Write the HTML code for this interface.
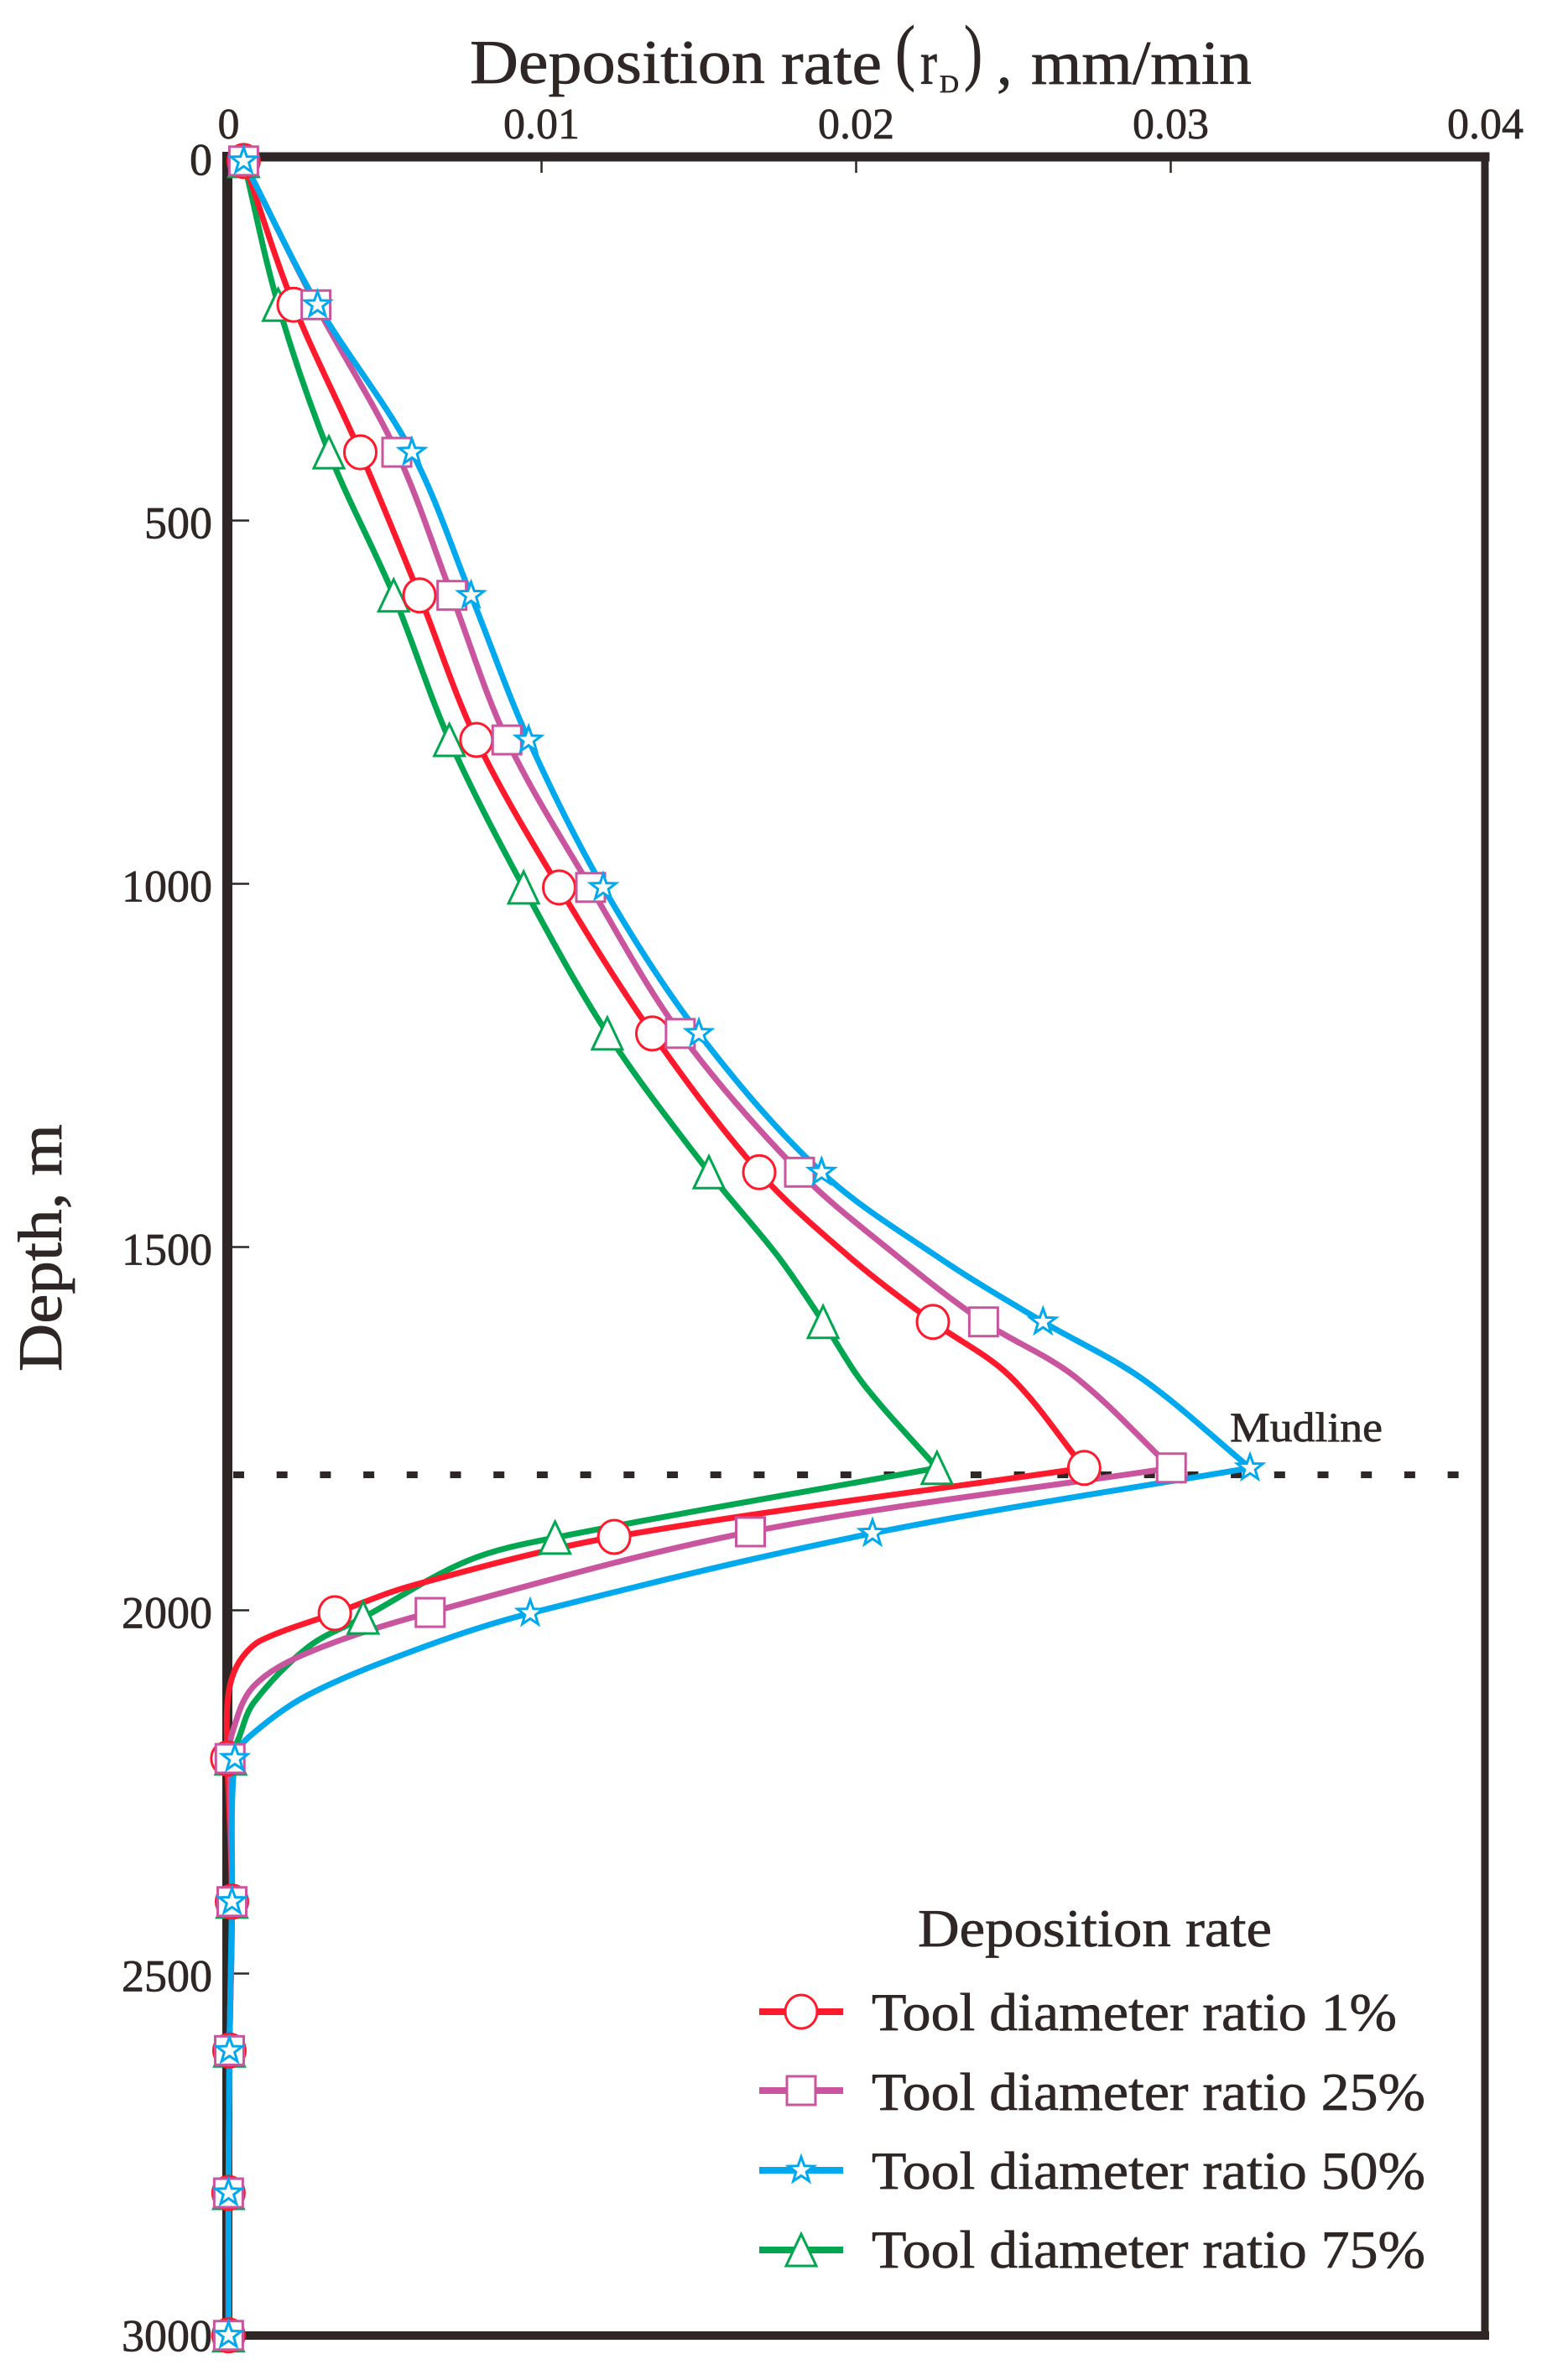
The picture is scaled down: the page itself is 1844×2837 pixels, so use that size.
<!DOCTYPE html>
<html lang="en">
<head>
<meta charset="utf-8">
<title>Deposition rate vs depth</title>
<style>
html,body{margin:0;padding:0;background:#fff;}
svg{display:block;}
text{font-family:"Liberation Serif","Times New Roman",serif;fill:#2f2725;stroke:#2f2725;stroke-width:0.7;}
</style>
</head>
<body>
<svg id="chart" xmlns="http://www.w3.org/2000/svg" width="1844" height="2837" viewBox="0 0 1844 2837">
  <rect x="0" y="0" width="1844" height="2837" fill="#ffffff"/>

  <g>
    <text x="560" y="99" font-size="74" textLength="352" lengthAdjust="spacingAndGlyphs">Deposition</text>
    <text x="931" y="100" font-size="74" textLength="120" lengthAdjust="spacingAndGlyphs">rate</text>
    <text x="1067" y="91" font-size="88" textLength="24" lengthAdjust="spacingAndGlyphs">(</text>
    <text x="1097" y="100" font-size="74" textLength="20" lengthAdjust="spacingAndGlyphs">r</text>
    <text x="1120" y="110" font-size="30" textLength="23" lengthAdjust="spacingAndGlyphs">D</text>
    <text x="1149" y="91" font-size="88" textLength="22" lengthAdjust="spacingAndGlyphs">)</text>
    <text x="1188" y="100" font-size="74">,</text>
    <text x="1229" y="100" font-size="74" textLength="263" lengthAdjust="spacingAndGlyphs">mm/min</text>
  </g>

  <text transform="translate(73,1635) rotate(-90)" x="0" y="0" font-size="74" textLength="295" lengthAdjust="spacingAndGlyphs">Depth, m</text>

  <g id="ticks-layer"></g>
  <line id="mudline" stroke="#2f2725" stroke-width="8" stroke-dasharray="13 38.7" y1="1758" y2="1758" x1="278" x2="1745"/>
  <text x="1466" y="1718" font-size="50" textLength="182" lengthAdjust="spacingAndGlyphs">Mudline</text>
  <g stroke="#2f2725" stroke-linecap="square">
    <line x1="271" y1="187" x2="271" y2="2784" stroke-width="12"/>
    <line x1="271" y1="187" x2="1770" y2="187" stroke-width="11"/>
    <line x1="1770" y1="187" x2="1770" y2="2784" stroke-width="9"/>
    <line x1="271" y1="2784" x2="1770" y2="2784" stroke-width="10"/>
  </g>
  <g id="lines-layer" fill="none" stroke-width="7" stroke-linecap="round" stroke-linejoin="round"></g>
  <g id="markers-layer"></g>

  <g>
    <text x="1094" y="2320" font-size="63" textLength="422" lengthAdjust="spacingAndGlyphs">Deposition rate</text>
    <text x="1039" y="2420" font-size="63" textLength="626" lengthAdjust="spacingAndGlyphs">Tool diameter ratio 1%</text>
    <text x="1039" y="2515" font-size="63" textLength="660" lengthAdjust="spacingAndGlyphs">Tool diameter ratio 25%</text>
    <text x="1039" y="2609" font-size="63" textLength="660" lengthAdjust="spacingAndGlyphs">Tool diameter ratio 50%</text>
    <text x="1039" y="2703" font-size="63" textLength="660" lengthAdjust="spacingAndGlyphs">Tool diameter ratio 75%</text>
    <g id="legend-keys"></g>
  </g>
</svg>

<script>
// Axis tick values
const xTickValues = [0, 0.01, 0.02, 0.03, 0.04];
const xTickLabels = ["0", "0.01", "0.02", "0.03", "0.04"];
const yTickValues = [0, 500, 1000, 1500, 2000, 2500, 3000];
const yTickLabels = ["0", "500", "1000", "1500", "2000", "2500", "3000"];

// Marker depths (m)
const depthsRed   = [5, 203, 406, 603, 802, 1005, 1206, 1397, 1603, 1804, 1899, 2004, 2204, 2401, 2606, 2802, 2998];
const depthsPink  = [5, 203, 406, 603, 802, 1005, 1206, 1397, 1603, 1804, 1892, 2003, 2204, 2401, 2606, 2802, 2998];
const depthsBlue  = [5, 203, 406, 603, 802, 1005, 1206, 1397, 1603, 1804, 1894, 2004, 2204, 2401, 2606, 2802, 2998];
const depthsGreen = [5, 203, 406, 603, 802, 1005, 1206, 1397, 1603, 1804, 1900, 2010, 2204, 2401, 2606, 2802, 2998];

// Deposition rate at the markers (mm/min)
const ratesRed   = [0.00053, 0.00212, 0.00424, 0.00612, 0.00793, 0.01056, 0.01352, 0.01692, 0.02244, 0.02725, 0.01231, 0.00343, 0.00001, 0.00016, 0.00008, 0.00005, 0.00005];
const ratesPink  = [0.00053, 0.00283, 0.00540, 0.00715, 0.00890, 0.01156, 0.01441, 0.01820, 0.02405, 0.03002, 0.01664, 0.00646, 0.00010, 0.00016, 0.00008, 0.00005, 0.00005];
const ratesBlue  = [0.00053, 0.00288, 0.00588, 0.00776, 0.00959, 0.01196, 0.01500, 0.01890, 0.02594, 0.03252, 0.02052, 0.00964, 0.00025, 0.00016, 0.00008, 0.00005, 0.00005];
const ratesGreen = [0.00053, 0.00163, 0.00324, 0.00530, 0.00707, 0.00943, 0.01209, 0.01532, 0.01895, 0.02257, 0.01043, 0.00433, 0.00012, 0.00016, 0.00008, 0.00005, 0.00005];

// Extra curve readings between markers, where the line has no marker
const curveDepthsRed   = [1513, 1677, 1966, 2041, 2064, 2093, 2131, 2185];
const curveRatesRed    = [0.01977, 0.02487, 0.00588, 0.00110, 0.00050, 0.00016, 0.00001, 0.00000];
const curveDepthsPink  = [1513, 1677, 2058, 2105, 2170];
const curveRatesPink   = [0.02132, 0.02691, 0.00260, 0.00084, 0.00016];
const curveDepthsBlue  = [1516, 1681, 2050, 2116, 2174];
const curveRatesBlue   = [0.02268, 0.02908, 0.00628, 0.00260, 0.00071];
const curveDepthsGreen = [1513, 1689, 1932, 2050, 2128, 2178];
const curveRatesGreen  = [0.01752, 0.02024, 0.00764, 0.00260, 0.00084, 0.00036];

const NS = "http://www.w3.org/2000/svg";
const PEAK_DEPTH = 1804;

// Axis functions
function xScale(v) { return 270.5 + v * 37500; }
function yScale(d) { return 187.5 + d * 0.866; }

function make(tag, attrs) {
  const el = document.createElementNS(NS, tag);
  for (const k in attrs) el.setAttribute(k, attrs[k]);
  return el;
}

const ticksLayer = document.getElementById("ticks-layer");
xTickValues.forEach(function (v, i) {
  const px = xScale(v);
  if (v > 0 && v < 0.04) {
    const t = make("line", { x1: px, x2: px, y1: 192, y2: 206, stroke: "#2f2725", "stroke-width": 2.5 });
    
    
    ticksLayer.appendChild(t);
  }
  const lab = make("text", { x: px + (i === 0 ? 2 : 0), y: 165, "font-size": 52, "text-anchor": "middle" });
  
  
  lab.textContent = xTickLabels[i];
  ticksLayer.appendChild(lab);
});
yTickValues.forEach(function (v, i) {
  const py = yScale(v);
  if (v > 0 && v < 3000) {
    const t = make("line", { x1: 276, x2: 297, y1: py, y2: py, stroke: "#2f2725", "stroke-width": 2.5 });
    
    
    ticksLayer.appendChild(t);
  }
  const lab = make("text", { x: 253, y: py + (v === 3000 ? 17 : 21), "font-size": 54, "text-anchor": "end" });
  
  
  lab.textContent = yTickLabels[i];
  ticksLayer.appendChild(lab);
});

// Smooth curve through points, tangents weighted by chord length
function smooth(pts) {
  function dist(a, b) { return Math.hypot(b[0] - a[0], b[1] - a[1]) || 1; }
  const tan = pts.map(function (p, i) {
    const a = pts[Math.max(i - 1, 0)], b = pts[Math.min(i + 1, pts.length - 1)];
    const L = dist(a, b);
    return [(b[0] - a[0]) / L, (b[1] - a[1]) / L];
  });
  let d = "M" + pts[0][0].toFixed(1) + " " + pts[0][1].toFixed(1);
  for (let i = 0; i < pts.length - 1; i++) {
    const p1 = pts[i], p2 = pts[i + 1], s = dist(p1, p2) / 3;
    const c1x = p1[0] + tan[i][0] * s, c1y = p1[1] + tan[i][1] * s;
    const c2x = p2[0] - tan[i + 1][0] * s, c2y = p2[1] - tan[i + 1][1] * s;
    d += "C" + c1x.toFixed(1) + " " + c1y.toFixed(1) + " " + c2x.toFixed(1) + " " + c2y.toFixed(1) + " " + p2[0].toFixed(1) + " " + p2[1].toFixed(1);
  }
  return d;
}

function starPoints(cx, cy, R, r) {
  const out = [];
  for (let i = 0; i < 10; i++) {
    const a = -Math.PI / 2 + i * Math.PI / 5;
    const rad = i % 2 ? r : R;
    out.push((cx + rad * Math.cos(a)).toFixed(1) + "," + (cy + rad * Math.sin(a)).toFixed(1));
  }
  return out.join(" ");
}

function markerShape(kind, cx, cy, color) {
  const base = { fill: "#ffffff", stroke: color, "stroke-width": 3 };
  if (kind === "circle") return make("ellipse", Object.assign({ cx: cx, cy: cy, rx: 19, ry: 20 }, base));
  if (kind === "square") return make("rect", Object.assign({ x: cx - 17, y: cy - 17, width: 34, height: 34 }, base));
  if (kind === "triangle") return make("polygon", Object.assign({ points: cx + "," + (cy - 19) + " " + (cx - 18) + "," + (cy + 19) + " " + (cx + 18) + "," + (cy + 19) }, base));
  return make("polygon", Object.assign({ points: starPoints(cx, cy, 16, 6.5) }, base));
}

const seriesList = [
  { key: "75-percent", kind: "triangle", color: "#00a650", depths: depthsGreen, rates: ratesGreen, curveDepths: curveDepthsGreen, curveRates: curveRatesGreen, legendY: 2682 },
  { key: "1-percent", kind: "circle", color: "#fe1a2c", depths: depthsRed, rates: ratesRed, curveDepths: curveDepthsRed, curveRates: curveRatesRed, legendY: 2398 },
  { key: "25-percent", kind: "square", color: "#c9559e", depths: depthsPink, rates: ratesPink, curveDepths: curveDepthsPink, curveRates: curveRatesPink, legendY: 2492 },
  { key: "50-percent", kind: "star", color: "#00a9ee", depths: depthsBlue, rates: ratesBlue, curveDepths: curveDepthsBlue, curveRates: curveRatesBlue, legendY: 2587 }
];

const linesLayer = document.getElementById("lines-layer");
const markersLayer = document.getElementById("markers-layer");
const legendKeys = document.getElementById("legend-keys");

seriesList.forEach(function (s) {
  const merged = [];
  s.depths.forEach(function (d, i) { merged.push([d, s.rates[i]]); });
  s.curveDepths.forEach(function (d, i) { merged.push([d, s.curveRates[i]]); });
  merged.sort(function (a, b) { return a[0] - b[0]; });
  const upper = merged.filter(function (p) { return p[0] <= PEAK_DEPTH; }).map(function (p) { return [xScale(p[1]), yScale(p[0])]; });
  const lower = merged.filter(function (p) { return p[0] >= PEAK_DEPTH; }).map(function (p) { return [xScale(p[1]), yScale(p[0])]; });
  const path = make("path", { d: smooth(upper) + smooth(lower), stroke: s.color });
  
  
  linesLayer.appendChild(path);

  s.depths.forEach(function (d, i) {
    const m = markerShape(s.kind, xScale(s.rates[i]), yScale(d), s.color);
    
    
    markersLayer.appendChild(m);
  });

  const keyLine = make("line", { x1: 905, x2: 1005, y1: s.legendY, y2: s.legendY, stroke: s.color, "stroke-width": 8 });
  
  
  legendKeys.appendChild(keyLine);
  const keyMark = markerShape(s.kind, 955, s.legendY, s.color);
  
  
  legendKeys.appendChild(keyMark);
});
</script>
</body>
</html>
